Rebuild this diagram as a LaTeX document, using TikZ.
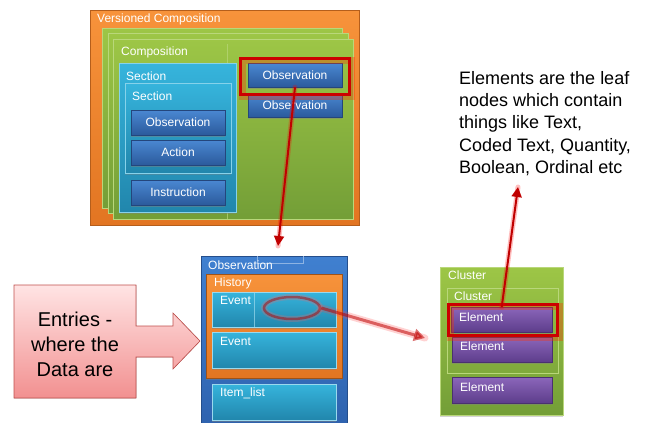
\documentclass[tikz,border=0pt]{standalone}
\usepackage{fontspec}
\setmainfont{Liberation Sans}
\usetikzlibrary{arrows.meta,shadows,shapes.geometric}
\definecolor{orgA}{HTML}{F7933B}
\definecolor{orgB}{HTML}{E27522}
\definecolor{grnA}{HTML}{9DC646}
\definecolor{grnB}{HTML}{739E37}
\definecolor{grnL}{HTML}{B9D77A}
\definecolor{cyaA}{HTML}{36B4DC}
\definecolor{cyaB}{HTML}{2186AC}
\definecolor{bluA}{HTML}{4A88D2}
\definecolor{bluB}{HTML}{2B5A9C}
\definecolor{bluE}{HTML}{24467C}
\definecolor{obsA}{HTML}{4080D0}
\definecolor{obsB}{HTML}{2E62AE}
\definecolor{purA}{HTML}{8B66BA}
\definecolor{purB}{HTML}{5D3D8B}
\definecolor{pnkA}{HTML}{FFE4E4}
\definecolor{pnkB}{HTML}{F29090}
\definecolor{pnkE}{HTML}{C0504D}
\definecolor{redD}{HTML}{C00000}
\tikzset{
  x=1pt, y=-1pt,
  panel/.style={anchor=north west, inner sep=0pt, rectangle},
  orangebox/.style={panel, top color=orgA, bottom color=orgB, draw=orgB!80!black, line width=.4pt},
  greenbox/.style={panel, top color=grnA, bottom color=grnB, draw=grnL, line width=.6pt},
  cyanbox/.style={panel, top color=cyaA, bottom color=cyaB, draw=cyaA!60!white, line width=.5pt},
  bluebtn/.style={panel, anchor=center, top color=bluA, bottom color=bluB, draw=bluE, line width=.4pt,
    drop shadow={shadow xshift=0pt, shadow yshift=-1.5pt, opacity=.45}, text=white, font=\fontsize{12}{14}\selectfont},
  bigblue/.style={panel, top color=obsA, bottom color=obsB, draw=obsB!80!black, line width=.4pt},
  histbox/.style={panel, top color=orgA, bottom color=orgB, draw=orgB!70!black, line width=.4pt,
    drop shadow={shadow xshift=0pt, shadow yshift=-2pt, opacity=.4}},
  eventbox/.style={panel, top color=cyaA, bottom color=cyaB, draw=cyaA!50!white, line width=.4pt,
    drop shadow={shadow xshift=0pt, shadow yshift=-1.5pt, opacity=.45}},
  purplebtn/.style={panel, top color=purA, bottom color=purB, draw=purB!80!black, line width=.4pt,
    drop shadow={shadow xshift=0pt, shadow yshift=-1.5pt, opacity=.45}},
  lbl/.style={anchor=west, inner sep=0pt, text=white, font=\fontsize{12}{14}\selectfont},
  glowhl/.style={panel, draw=red!80!black, line width=3.2pt},
  glowhalo/.style={panel, draw=red!60!orange, line width=7pt, opacity=.35},
  redarrow/.style={draw=redD, line width=2pt, -{Triangle[length=10pt,width=10pt]}},
  redhalo/.style={draw=red, line width=5pt, opacity=.25, line cap=round},
  softarrow/.style={draw=red!75!black, line width=3pt, opacity=.55, -{Triangle[length=11pt,width=12pt]}},
  softhalo/.style={draw=red!70!white, line width=7pt, opacity=.25, line cap=round},
}
\begin{document}
\begin{tikzpicture}
\useasboundingbox (0,0) rectangle (656,423);

% ---------- Versioned composition stack ----------
\node[orangebox, minimum width=269pt, minimum height=215pt] (vc) at (90,10) {};
\node[lbl] (vcT) at (97,19) {Versioned Composition};
\node[greenbox, minimum width=240pt, minimum height=180pt] (compA) at (102,28) {};
\node[greenbox, minimum width=240pt, minimum height=180pt] (compB) at (108,33) {};
\node[greenbox, minimum width=240pt, minimum height=180pt] (comp) at (113,39) {};
\draw[grnL, line width=.5pt, opacity=.7] (227,44) -- (227,219);
\node[lbl] (compT) at (121,52) {Composition};

\node[cyanbox, minimum width=117pt, minimum height=149pt,
      drop shadow={shadow xshift=0pt, shadow yshift=-2pt, opacity=.4}] (sec1) at (119,63) {};
\node[lbl] (sec1T) at (126,76) {Section};
\node[cyanbox, minimum width=106pt, minimum height=90pt,
      drop shadow={shadow xshift=0pt, shadow yshift=-2pt, opacity=.35}] (sec2) at (125,83) {};
\node[lbl] (sec2T) at (132,96) {Section};
\node[bluebtn, minimum width=94pt, minimum height=25pt] (obsL) at (178,122.5) {Observation};
\node[bluebtn, minimum width=94pt, minimum height=25pt] (act) at (178,152.5) {Action};
\node[bluebtn, minimum width=94pt, minimum height=25pt] (instr) at (178,192.5) {Instruction};

\node[bluebtn, minimum width=94pt, minimum height=24pt] (obsR2) at (295,105) {Observation};
\node[bluebtn, minimum width=94pt, minimum height=24pt] (obsR1) at (295,75) {Observation};
\node[glowhalo, minimum width=109pt, minimum height=36pt] (hl1h) at (239,57) {};
\node[glowhl, minimum width=109pt, minimum height=36pt] (hl1) at (239,57) {};

% ---------- Observation detail ----------
\node[bigblue, minimum width=146pt, minimum height=172pt] (obs) at (201,256) {};
\draw[obsA!60!white, line width=.5pt] (257,256) -- (257,263) -- (303,263) -- (303,256);
\node[lbl] (obsT) at (208,265) {Observation};
\node[histbox, minimum width=136pt, minimum height=104pt] (hist) at (206,274) {};
\node[lbl] (histT) at (214,283) {History};
\node[eventbox, minimum width=124pt, minimum height=35pt] (ev1) at (212,292) {};
\draw[cyaA!50!white, line width=.4pt, opacity=.7] (254,292) -- (254,327);
\node[lbl] (ev1T) at (220,300) {Event};
\node[eventbox, minimum width=124pt, minimum height=36pt] (ev2) at (212,332) {};
\node[lbl] (ev2T) at (220,341) {Event};
\node[eventbox, minimum width=124pt, minimum height=36pt] (item) at (212,384) {};
\node[lbl] (itemT) at (220,393) {Item\_list};

% ---------- Cluster ----------
\node[greenbox, minimum width=123pt, minimum height=148pt,
      drop shadow={shadow xshift=0pt, shadow yshift=-2pt, opacity=.35}] (cl) at (440,267) {};
\node[lbl] (clT) at (448,275) {Cluster};
\node[panel, draw=grnL, line width=.6pt, minimum width=111pt, minimum height=85pt] (cl2) at (447,288) {};
\node[lbl] (cl2T) at (454,296) {Cluster};
\node[purplebtn, minimum width=101pt, minimum height=25pt] (el1) at (451,307) {};
\node[lbl] (el1T) at (459,317) {Element};
\node[purplebtn, minimum width=100pt, minimum height=25pt] (el2) at (452,337) {};
\node[lbl] (el2T) at (460,346) {Element};
\node[purplebtn, minimum width=100pt, minimum height=26pt] (el3) at (452,377) {};
\node[lbl] (el3T) at (460,387) {Element};
\node[glowhalo, minimum width=109pt, minimum height=31pt] (hl2h) at (447,303) {};
\node[glowhl, minimum width=109pt, minimum height=31pt] (hl2) at (447,303) {};

% ---------- Notes ----------
\node[anchor=north west, inner sep=0pt, align=left, font=\fontsize{18}{22.3}\selectfont] (note) at (459,71)
  {Elements are the leaf\\nodes which contain\\things like Text,\\Coded Text, Quantity,\\Boolean, Ordinal etc};

\fill[top color=pnkA, bottom color=pnkB, draw=pnkE, line width=.6pt]
  (14,285) -- (136,285) -- (136,326) -- (173,326) -- (173,313) -- (200,341)
  -- (173,369) -- (173,357) -- (136,357) -- (136,398) -- (14,398) -- cycle;
\node[align=center, inner sep=0pt, font=\fontsize{20}{25}\selectfont] (entT) at (75,344)
  {Entries -\\where the\\Data are};

% ---------- Connectors ----------
\coordinate (tipA) at (278,246);
\coordinate (tipB) at (425,338);
\coordinate (tipC) at (518,187);
\node[ellipse, draw=red!60!white, line width=6pt, opacity=.25, minimum width=56pt, minimum height=22pt, inner sep=0pt] (ringh) at (292,308) {};
\node[ellipse, draw=red!70!black, line width=2.5pt, opacity=.5, minimum width=56pt, minimum height=22pt, inner sep=0pt] (ring) at (292,308) {};
\draw[softhalo] (ring.east) -- (tipB);
\draw[softarrow] (ring.east) -- (tipB);
\draw[redhalo] (obsR1.south) -- (tipA);
\draw[redarrow] (obsR1.south) -- (tipA);
\draw[redhalo] (el1.north) -- (tipC);
\draw[redarrow] (el1.north) -- (tipC);
\end{tikzpicture}
\end{document}
